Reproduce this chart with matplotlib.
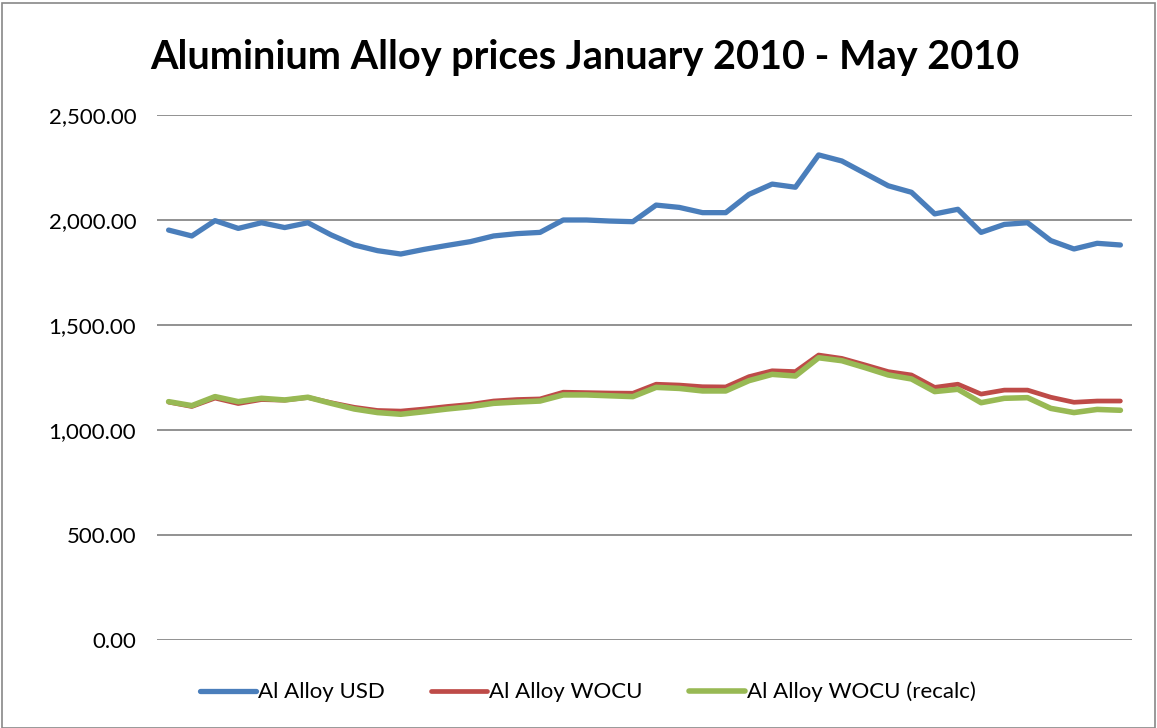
import matplotlib
matplotlib.use("Agg")
import matplotlib.pyplot as plt
from matplotlib.patches import Rectangle
import numpy as np

usd = [1952, 1924, 1997, 1960, 1987, 1964, 1987, 1929, 1881, 1854,
       1838, 1860, 1879, 1897, 1924, 1935, 1941, 2000, 2000, 1995,
       1992, 2071, 2060, 2035, 2035, 2122, 2171, 2156, 2310, 2281,
       2222, 2163, 2132, 2029, 2051, 1941, 1979, 1987, 1902, 1862,
       1889, 1881]
wocu = [1133, 1112, 1152, 1126, 1145, 1142, 1155, 1130, 1108, 1093,
        1090, 1100, 1112, 1122, 1138, 1145, 1148, 1180, 1178, 1176,
        1175, 1218, 1214, 1206, 1205, 1254, 1282, 1278, 1357, 1341,
        1310, 1278, 1262, 1203, 1218, 1171, 1190, 1190, 1156, 1132,
        1138, 1138]
recalc = [1135, 1116, 1159, 1135, 1151, 1143, 1156, 1127, 1100, 1083,
          1075, 1087, 1100, 1111, 1127, 1133, 1138, 1167, 1167, 1163,
          1159, 1203, 1198, 1186, 1186, 1235, 1265, 1257, 1344, 1330,
          1297, 1262, 1243, 1183, 1194, 1130, 1151, 1154, 1103, 1083,
          1098, 1094]
labels = ["Al Alloy USD", "Al Alloy WOCU", "Al Alloy WOCU (recalc)"]
yticks = [0, 500, 1000, 1500, 2000, 2500]
title = "Aluminium Alloy prices January 2010 - May 2010"

plt.rcParams['font.family'] = ['Lato', 'DejaVu Sans']

fig = plt.figure(figsize=(11.57, 7.28), dpi=100)
fig.patches.append(Rectangle((0.002, 0.0), 0.996, 0.996, transform=fig.transFigure,
                             fill=False, edgecolor='#888888', linewidth=1.2))
ax = fig.add_axes([157/1157, 1-640/728, 975/1157, 525/728])
x = np.arange(len(usd))
ax.plot(x, usd, color='#4A7EBB', lw=3.8, label=labels[0], solid_capstyle='round', solid_joinstyle='round', zorder=3)
ax.plot(x, wocu, color='#BE4B48', lw=3.4, label=labels[1], solid_capstyle='round', solid_joinstyle='round', zorder=3)
ax.plot(x, recalc, color='#98B954', lw=4.0, label=labels[2], solid_capstyle='round', solid_joinstyle='round', zorder=4)

ax.set_xlim(-0.5, len(usd) - 0.5)
ax.set_ylim(0, 2500)
ax.set_yticks(yticks)
ax.set_yticklabels([f"{v:,.2f}" for v in yticks], fontsize=16)
ax.set_xticks([])
ax.tick_params(axis='y', length=0, pad=15)
ax.grid(axis='y', color='#898989', lw=1.3)
ax.set_axisbelow(True)
for s in ax.spines.values():
    s.set_visible(False)

fig.text(585/1157, 1-57/728, title, ha='center', va='center', fontsize=28.5, fontweight='bold')

leg = fig.legend(loc='center', bbox_to_anchor=(588/1157, 1-692/728), ncol=3, frameon=False,
                 fontsize=16, handlelength=2.5, handletextpad=0.1, columnspacing=2.1)

fig.savefig("out.png", dpi=100)
